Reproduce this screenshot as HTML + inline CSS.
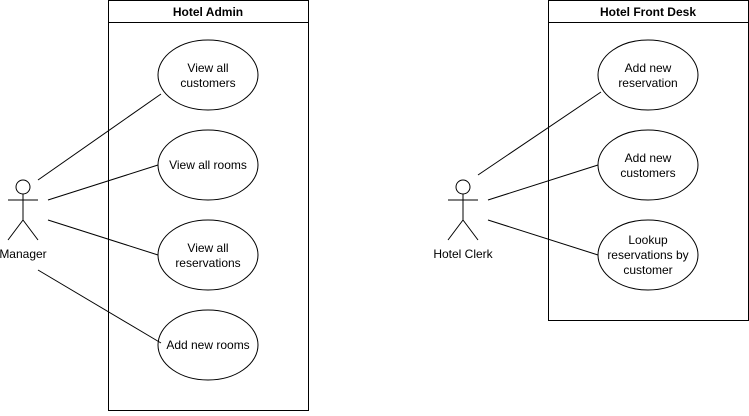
<!DOCTYPE html>
<html><head><style>body{margin:0;background:#fff}</style></head><body>
<svg width="749" height="411" xmlns="http://www.w3.org/2000/svg" font-family="Liberation Sans, sans-serif" font-size="12">
<g fill="#fff" stroke="#000">
<rect x="108.5" y="0.5" width="200" height="410"/>
<line x1="108.5" y1="22.5" x2="308.5" y2="22.5"/>
<rect x="548.5" y="0.5" width="200" height="320"/>
<line x1="548.5" y1="22.5" x2="748.5" y2="22.5"/>
<ellipse cx="208" cy="75" rx="50" ry="35"/>
<ellipse cx="208" cy="165" rx="50" ry="35"/>
<ellipse cx="208" cy="255" rx="50" ry="35"/>
<ellipse cx="208" cy="345" rx="50" ry="35"/>
<ellipse cx="648" cy="75" rx="50" ry="35"/>
<ellipse cx="648" cy="165" rx="50" ry="35"/>
<ellipse cx="648" cy="255" rx="50" ry="35"/>
<circle cx="23" cy="187" r="7"/>
<circle cx="463" cy="187" r="7"/>
</g>
<g stroke="#000" fill="none">
<path d="M23 194V220M8 200H38M23 220L8 240M23 220L38 240"/>
<path d="M463 194V220M448 200H478M463 220L448 240M463 220L478 240"/>
<line x1="38" y1="180" x2="161" y2="94"/>
<line x1="48" y1="200" x2="158" y2="165"/>
<line x1="48" y1="220" x2="158" y2="255"/>
<line x1="38" y1="270" x2="161" y2="343"/>
<line x1="478" y1="175" x2="601" y2="92"/>
<line x1="488" y1="200" x2="598" y2="165"/>
<line x1="488" y1="220" x2="598" y2="255"/>
</g>
<g text-anchor="middle" fill="#000">
<text x="208" y="16" font-weight="bold">Hotel Admin</text>
<text x="648" y="16" font-weight="bold">Hotel Front Desk</text>
<text x="208" y="72">View all</text><text x="208" y="87">customers</text>
<text x="208" y="169">View all rooms</text>
<text x="208" y="252">View all</text><text x="208" y="267">reservations</text>
<text x="208" y="349">Add new rooms</text>
<text x="648" y="72">Add new</text><text x="648" y="87">reservation</text>
<text x="648" y="162">Add new</text><text x="648" y="177">customers</text>
<text x="648" y="244">Lookup</text><text x="648" y="259">reservations by</text><text x="648" y="274">customer</text>
<text x="23" y="258">Manager</text>
<text x="463" y="258">Hotel Clerk</text>
</g>
</svg>
</body></html>
